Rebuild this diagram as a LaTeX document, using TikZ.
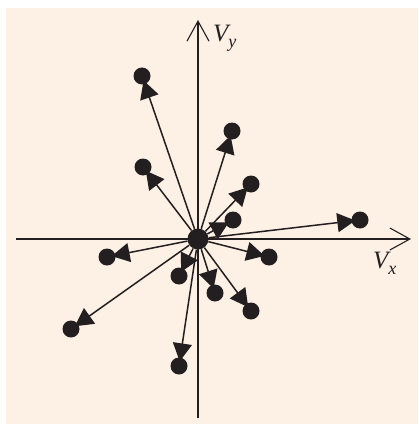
\documentclass[tikz,border=0pt]{standalone}
\usepackage{fontspec}
\setmainfont{Liberation Serif}
\usetikzlibrary{arrows.meta}
\definecolor{bgpeach}{RGB}{253,240,228}
\definecolor{ink}{RGB}{35,31,32}
\begin{document}
\begin{tikzpicture}[x=1pt,y=-1pt,
  dotend/.style={circle,fill=ink,inner sep=0pt,minimum size=17pt},
  dotmid/.style={circle,fill=ink,inner sep=0pt,minimum size=21pt},
  vec/.style={draw=ink,line width=1.5pt,shorten >=-4pt,-{Triangle[length=18pt,width=19pt]}},
  axis/.style={draw=ink,line width=1.1pt,-{Straight Barb[length=20pt,width=22pt,line width=1.1pt]}},
  lab/.style={font=\fontsize{25}{25}\selectfont\itshape,text=ink,inner sep=0pt}]
\useasboundingbox (0,0) rectangle (419,425);
\fill[bgpeach] (6,8) rectangle (418,424);
\coordinate (xl) at (16,239);
\coordinate (xr) at (411,239);
\coordinate (yb) at (198,418);
\coordinate (yt) at (198,20);
\draw[axis] (xl) -- (xr);
\draw[axis] (yb) -- (yt);
\node[lab,anchor=west] (vy) at (213,38) {V\raisebox{-0.25em}{\fontsize{18}{18}\selectfont y}};
\node[lab,anchor=west] (vx) at (373,263) {V\raisebox{-0.25em}{\fontsize{18}{18}\selectfont x}};
\node[dotmid] (O) at (198,239) {};
\node[dotend] (p1) at (142,76) {};
\node[dotend] (p2) at (232,131) {};
\node[dotend] (p3) at (143,167) {};
\node[dotend] (p4) at (251,184) {};
\node[dotend] (p5) at (233,220) {};
\node[dotend] (p6) at (360,220) {};
\node[dotend] (p7) at (107,257) {};
\node[dotend] (p8) at (269,257) {};
\node[dotend] (p9) at (179,276) {};
\node[dotend] (p10) at (215,293) {};
\node[dotend] (p11) at (251,311) {};
\node[dotend] (p12) at (71,329) {};
\node[dotend] (p13) at (179,366) {};
\foreach \i in {1,...,13} {\draw[vec] (O) -- (p\i);}
\end{tikzpicture}
\end{document}
